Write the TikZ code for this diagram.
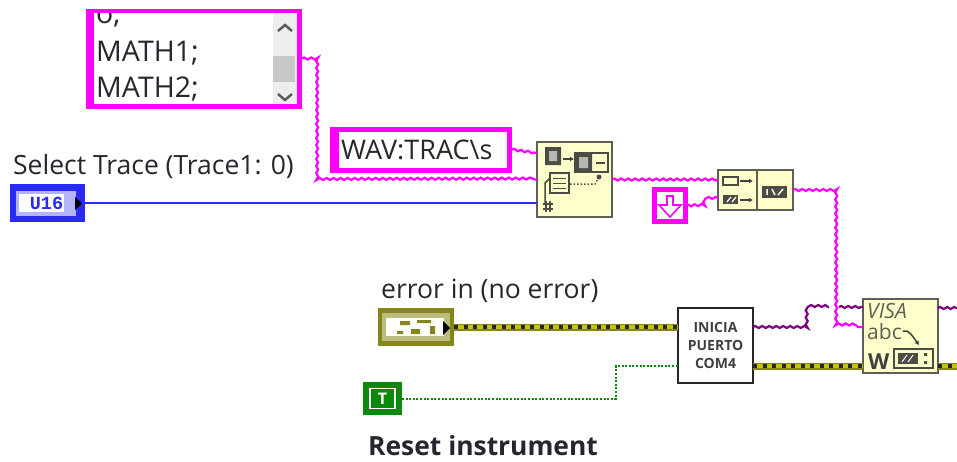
\documentclass[tikz,border=0pt]{standalone}
\usepackage{fontspec}
\setmainfont{Open Sans}
\newfontfamily\ctlfont{Liberation Mono}
\usetikzlibrary{arrows.meta,positioning,calc,decorations.pathmorphing}
\definecolor{strpink}{HTML}{FF00FF}
\definecolor{strpurple}{HTML}{800080}
\definecolor{intblue}{HTML}{2A2AF5}
\definecolor{clustolive}{HTML}{85851A}
\definecolor{clustyellow}{HTML}{C4C400}
\definecolor{boolgreen}{HTML}{0A8A0A}
\definecolor{vicream}{HTML}{FFFFCC}
\definecolor{vigray}{HTML}{5F5F55}
\definecolor{labeltext}{HTML}{26262E}
\newcommand{\lab}[1]{\fontsize{#1}{#1}\selectfont}

\begin{document}
\begin{tikzpicture}[x=1pt,y=-1pt,
      box/.style={inner sep=0pt, outer sep=0pt, minimum width=#1},
      strbox/.style={box=#1, draw=strpink, line width=5pt, fill=white},
      vinode/.style={box=75pt, draw=vigray, line width=2.4pt, fill=vicream},
      txt/.style={inner sep=0pt, anchor=base west, text=labeltext, font=\lab{26.5}},
      strwire/.style={draw=strpink, line width=2.2pt, decorate, decoration={snake, segment length=7pt, amplitude=1pt}},
      pathwire/.style={strwire, draw=strpurple},
      intwire/.style={draw=intblue, line width=2.3pt},
      errwire/.style={draw=clustolive, line width=7pt, postaction={draw=clustyellow, line width=4.5pt}, postaction={draw=black!85, line width=3.6pt, dash pattern=on 4pt off 5.5pt}},
      boolwire/.style={draw=boolgreen, line width=2pt, dash pattern=on 2pt off 1.6pt},
      darkbit/.style={fill=vigray!80!black},
      midbit/.style={fill=vigray!45},
      tip/.style={-{Latex[length=4pt,width=5pt]}, vigray!70!black, line width=1.5pt}]
    \useasboundingbox (0,0) rectangle (957,461);
    \fill[white] (0,0) rectangle (957,461);

    % string list
    \node[box=216pt, minimum height=100pt, fill=strpink] (list) at (194,58.5) {};
    \node[box=202pt, minimum height=91pt, fill=white, anchor=north west] (listin) at (94,13) {};
    \node[box=24pt, minimum height=91pt, fill=black!7, anchor=north east] (sbar) at (list.east |- listin.north) [xshift=-5pt] {};
    \node[box=22pt, minimum height=26pt, fill=black!22, anchor=north west] (thumb) at (273,56) {};
    \draw[line width=2.4pt, black!65] (278,31) -- (285,25) -- (292,31) (278,94) -- (285,100) -- (292,94);
    \begin{scope}
      \clip (94,13) rectangle (273,104);
      \node[txt, font=\lab{28.5}] (item0) at (96,23.5) {o;};
      \node[txt, font=\lab{28.5}] (item1) at (96,61) {MATH1;};
      \node[txt, font=\lab{28.5}] (item2) at (96,97.5) {MATH2;};
    \end{scope}

    % control and labels
    \node[txt] (seltxt) at (13,174) {Select Trace (Trace1: 0)};
    \node[box=75pt, minimum height=38pt, fill=intblue] (ctl) at (47.5,203) {};
    \node[box=60pt, minimum height=25pt, fill=intblue!35, anchor=west] (ctlin) at (16,203) {};
    \node[box=45pt, minimum height=18pt, fill=white, anchor=west] (ctlfld) at (19,203) {};
    \node[inner sep=0pt, text=intblue, font=\ctlfont\bfseries\lab{18.5}] (ctlval) at (46.5,203) {U16};
    \fill[black] (75,197) -- (82,203.5) -- (75,210) -- cycle;

    \node[box=182pt, minimum height=46pt, fill=strpink] (wav) at (421,149.5) {};
    \node[box=168pt, minimum height=36pt, fill=white, anchor=west] (wavin) at (339,149.5) {};
    \node[txt, font=\lab{27}] (wavtxt) at (341,159) {WAV:TRAC\textbackslash s};

    % format into string
    \node[vinode, minimum height=75pt, anchor=north west] (fmt) at (537,142) {};
    \fill[darkbit] (545,147) rectangle (561,165) (575,153) rectangle (592,172);
    \fill[midbit] (549,151) rectangle (557,161) (579,157) rectangle (588,168);
    \draw[vigray!80!black, line width=1.5pt] (575,153) rectangle (608,172);
    \fill[darkbit] (596,162) rectangle (605,164);
    \draw[tip] (563,159) -- (574,159);
    \draw[vigray!80!black, line width=1.2pt, fill=vicream] (550,173) rectangle (569,193);
    \draw[vigray!80!black, line width=1pt] (553,178) -- (566,178) (553,183) -- (566,183) (553,188) -- (566,188);
    \draw[vigray!80!black, line width=1.5pt] (550,178) -- (545,183) -- (545,203);
    \draw[vigray!80!black, line width=1.5pt, dotted] (570,184) -- (595,184) -- (599,177);
    \fill[vigray!80!black] (599,177) circle (2.5pt);
    \draw[vigray!80!black, line width=1.5pt] (543,204) -- (553,204) (543,209) -- (553,209) (546,201) -- (546,212) (550,201) -- (550,212);

    % concatenate
    \node[vinode, minimum height=40pt, anchor=north west] (conc) at (718,170) {};
    \draw[vigray, line width=2.4pt] (757,170) -- (757,210);
    \draw[vigray!80!black, line width=1.5pt, fill=vicream] (723,177) rectangle (738,185);
    \fill[darkbit] (723,195) rectangle (738,204);
    \draw[white, line width=1.2pt] (727,202) -- (731,197) (732,202) -- (736,197);
    \draw[tip] (740,181) -- (753,181);
    \draw[tip] (740,200) -- (753,200);
    \fill[darkbit] (762,186) rectangle (787,198);
    \draw[white, line width=1.5pt] (767,189) -- (767,195) (772,189) -- (775,195) (778,195) -- (783,189);

    % line feed constant
    \node[strbox=31pt, minimum height=32pt] (lf) at (670,205.5) {};
    \draw[strpink, line width=1.6pt] (667,196) -- (673,196) -- (673,205) -- (681,205) -- (670,217) -- (659,205) -- (667,205) -- cycle;

    % error cluster, init and bool
    \node[txt] (errtxt) at (381,298) {error in (no error)};
    \node[box=76pt, minimum height=38pt, fill=clustolive] (err) at (416,327) {};
    \node[box=68pt, minimum height=28pt, fill=clustolive!55, anchor=west] (errband) at (382,327) {};
    \node[box=58pt, minimum height=18pt, fill=white, anchor=west] (errin) at (386,327) {};
    \fill[clustolive] (400,321) rectangle (410,325) (417,320) rectangle (431,323) (397,331) rectangle (403,334) (411,329) rectangle (420,334) (430,326) rectangle (435,334);
    \fill[black] (443,321) -- (450,328) -- (443,335) -- cycle;

    \node[box=75pt, minimum height=75pt, draw=black!85, line width=2.4pt, fill=white, align=center, font=\bfseries\lab{14}, text=black!75] (init) at (715.5,345.5) {INICIA\\[4pt]PUERTO\\[4pt]COM4};

    \node[box=39pt, minimum height=33pt, fill=boolgreen] (bool) at (382.5,398.5) {};
    \node[box=25pt, minimum height=20pt, draw=white, line width=1.2pt, fill=boolgreen, text=white, font=\bfseries\lab{16}] (boolval) at (bool) {T};
    \node[txt, font=\bfseries\lab{26.4}] (resettxt) at (368,455) {Reset instrument};

    % visa write
    \node[vinode, minimum height=74pt, anchor=north west] (visa) at (863,299) {};
    \node[txt, text=vigray, font=\itshape\lab{21}] (visatxt) at (867,318) {VISA};
    \node[txt, text=vigray, font=\lab{21}] (abctxt) at (867,339) {abc};
    \draw[tip] (903,331) .. controls (909,329) and (913,337) .. (919,345);
    \node[txt, text=black!75, font=\bfseries\lab{22}] (wtxt) at (868,369) {W};
    \draw[vigray!80!black, line width=1.7pt, fill=vicream] (894,349) rectangle (933,368);
    \fill[darkbit] (898,353) rectangle (918,364);
    \draw[white, line width=1pt] (902,362) -- (907,355) (908,362) -- (913,355);
    \fill[vigray!80!black] (924,353) rectangle (927,356) (924,361) rectangle (927,364);

    % wires
    \coordinate (c1) at (318,180);
    \coordinate (c2) at (835,327);
    \coordinate (c3) at (807,327);
    \coordinate (hop1) at (829,307);
    \coordinate (hop2) at (839,307);
    \coordinate (c4) at (616,366);
    \coordinate (fmtin) at (537,153);
    \coordinate (lfin) at (718,198);
    \coordinate (lfstep) at (702,205);
    \coordinate (initerr) at (753,366);
    \coordinate (outstr) at (957,308);
    \coordinate (outerr) at (957,366);

    \draw[strwire] (list.east) -| (c1) -- (fmt.west);
    \draw[strwire] (wav.east) -- (fmtin);
    \draw[intwire] (ctl.east) -- (fmt.west |- ctl.east);
    \draw[strwire] (fmt.east) -- (conc.west |- fmt.east);
    \draw[strwire] (lf.east) -- (lfstep) -- (lfstep |- lfin) -- (lfin);
    \draw[strwire] (conc.east) -| (c2) -- (visa.west |- c2);
    \draw[pathwire] (init.east |- c3) -- (c3) |- (hop1);
    \draw[pathwire] (hop2) -- (visa.west |- hop2);
    \draw[pathwire] (visa.east |- outstr) -- (outstr);
    \draw[errwire] (err.east) -- (init.west |- err.east);
    \draw[errwire] (initerr) -- (visa.west |- initerr);
    \draw[errwire] (visa.east |- outerr) -- (outerr);
    \draw[boolwire] (bool.east) -| (c4) -- (init.west |- c4);
\end{tikzpicture}
\end{document}
